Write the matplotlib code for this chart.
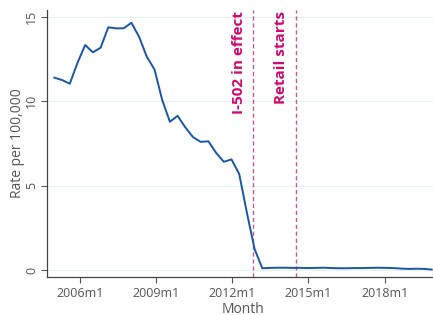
import numpy as np
import matplotlib
matplotlib.use("Agg")
import matplotlib.pyplot as plt

# time in decimal years (evenly spaced observations, 2005m1 .. 2019m11)
time = np.linspace(2005.0, 2019.85, 50)
rate = [11.40, 11.26, 11.04, 12.28, 13.33, 12.90, 13.17, 14.38, 14.32, 14.32,
        14.65, 13.82, 12.64, 11.89, 10.08, 8.79, 9.14, 8.46, 7.88, 7.60,
        7.63, 6.95, 6.42, 6.56, 5.70, 3.40, 1.25, 0.12, 0.14, 0.15,
        0.15, 0.14, 0.14, 0.13, 0.14, 0.15, 0.13, 0.12, 0.12, 0.13,
        0.13, 0.14, 0.15, 0.14, 0.13, 0.10, 0.08, 0.09, 0.08, 0.04]

events = [2012 + 10 / 12, 2014 + 6 / 12]
event_labels = ["I-502 in effect", "Retail starts"]

tick_years = [2006, 2009, 2012, 2015, 2018]
tick_labels = ["2006m1", "2009m1", "2012m1", "2015m1", "2018m1"]
y_ticks = [0, 5, 10, 15]

plt.rcParams['font.family'] = ['Open Sans', 'DejaVu Sans']

fig = plt.figure(figsize=(4.33, 3.15), dpi=100)
ax = fig.add_axes([0.1074, 0.1206, 0.8926, 0.8474])

for y in y_ticks:
    ax.axhline(y, color="#eaf1f3", lw=0.9, zorder=0)

ax.plot(time, rate, color="#1a56a8", lw=1.4, zorder=3)

for ev, lab in zip(events, event_labels):
    ax.axvline(ev, color="#c95b8c", lw=1.0, ls=(0, (3, 2)), zorder=2)
    ax.text(ev - 0.3, 15.35, lab, rotation=90, ha="right", va="top",
            color="#d4086f", fontsize=11, fontweight="bold")

ax.set_xlim(2004.69, 2019.9)
ax.set_ylim(-0.4, 15.4)

ax.set_xticks(tick_years)
ax.set_xticklabels(tick_labels)
ax.set_yticks(y_ticks)
ax.set_yticklabels([str(v) for v in y_ticks], rotation=90, va="center")

ax.tick_params(axis="both", colors="#555555", labelsize=9, length=4, width=0.8)
ax.tick_params(axis="x", pad=3)
ax.tick_params(axis="y", pad=2)

for s in ["top", "right"]:
    ax.spines[s].set_visible(False)
for s in ["left", "bottom"]:
    ax.spines[s].set_color("#444444")
    ax.spines[s].set_linewidth(0.9)

ax.set_xlabel("Month", fontsize=10, color="#555555", va="center")
ax.xaxis.set_label_coords(0.508, -0.12)
ax.set_ylabel("Rate per 100,000", fontsize=10, color="#555555", labelpad=0)

fig.savefig("out.png", dpi=100)
